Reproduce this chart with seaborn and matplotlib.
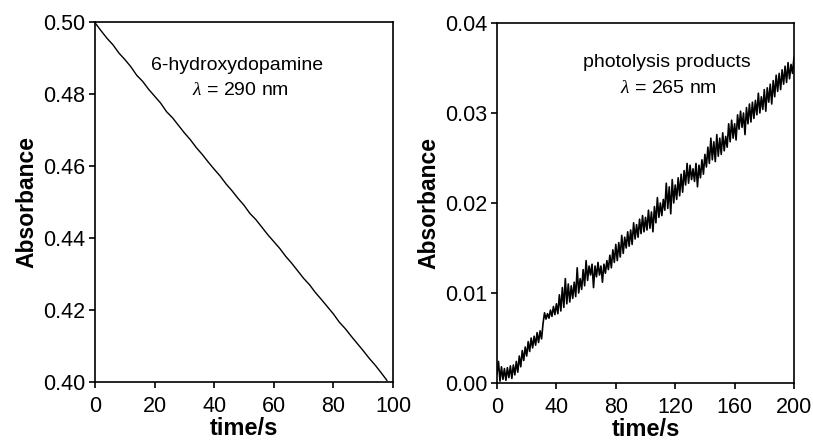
import numpy as np
import pandas as pd
import matplotlib
matplotlib.use("Agg")
import matplotlib.pyplot as plt
import seaborn as sns

# --- data ---

# 6-hydroxydopamine decay at 290 nm
t_left = [0, 2, 4, 6, 8, 10, 12, 14, 16, 18,
          20, 22, 24, 26, 28, 30, 32, 34, 36, 38,
          40, 42, 44, 46, 48, 50, 52, 54, 56, 58,
          60, 62, 64, 66, 68, 70, 72, 74, 76, 78,
          80, 82, 84, 86, 88, 90, 92, 94, 96, 98]
abs_left = [0.4998, 0.4976, 0.4955, 0.4937, 0.4914, 0.4896, 0.4876, 0.4852, 0.4835, 0.4813,
            0.4794, 0.4775, 0.4751, 0.4734, 0.4713, 0.4692, 0.4673, 0.4651, 0.4632, 0.4611,
            0.4591, 0.4572, 0.4550, 0.4531, 0.4510, 0.4491, 0.4468, 0.4451, 0.4430, 0.4409,
            0.4390, 0.4371, 0.4349, 0.4330, 0.4309, 0.4288, 0.4270, 0.4248, 0.4229, 0.4209,
            0.4189, 0.4166, 0.4148, 0.4127, 0.4107, 0.4087, 0.4066, 0.4047, 0.4026, 0.4004]

# photolysis products growth at 265 nm (one reading per second, in 1e-3 units)
abs_right_milli = [
    1.0, 2.4, 0.2, 1.8, 0.4, 1.6, 0.3, 1.7, 0.6, 1.9,
    0.5, 2.0, 0.9, 2.4, 1.2, 3.0, 1.8, 3.6, 2.5, 4.0,
    3.0, 4.6, 3.5, 5.0, 3.9, 5.2, 4.2, 5.6, 4.5, 5.8,
    4.9, 6.6, 7.8, 7.1, 7.7, 7.2, 8.1, 7.4, 8.5, 7.6,
    8.8, 7.7, 9.8, 8.0, 10.6, 8.4, 11.6, 8.8, 11.0, 9.0,
    10.8, 9.4, 11.2, 9.6, 12.8, 10.0, 11.6, 10.4, 12.6, 10.8,
    13.6, 11.4, 13.0, 12.0, 13.2, 10.6, 13.0, 11.8, 13.4, 12.0,
    13.0, 11.2, 13.2, 12.2, 13.6, 12.6, 14.2, 12.8, 14.8, 13.4,
    15.4, 13.6, 15.6, 14.0, 16.4, 14.4, 16.2, 15.0, 16.8, 15.2,
    17.0, 15.4, 17.8, 16.0, 17.6, 16.2, 18.2, 16.6, 18.6, 16.8,
    18.4, 17.0, 19.2, 17.2, 19.0, 16.8, 19.6, 17.8, 20.6, 18.4,
    20.0, 18.6, 20.4, 19.2, 22.2, 19.4, 21.8, 18.8, 22.6, 20.0,
    22.0, 20.4, 22.8, 20.8, 23.2, 21.2, 23.6, 22.0, 24.4, 22.2,
    24.2, 22.6, 23.8, 22.4, 24.4, 21.8, 24.2, 22.8, 24.8, 23.2,
    25.4, 24.0, 26.2, 24.4, 27.2, 24.8, 26.8, 24.6, 27.6, 25.2,
    27.2, 25.4, 27.8, 25.8, 27.4, 26.2, 28.8, 26.8, 29.2, 27.2,
    28.8, 27.0, 29.8, 28.2, 30.2, 28.4, 30.0, 27.6, 30.6, 28.8,
    31.0, 29.0, 31.2, 29.4, 31.4, 29.8, 32.2, 30.0, 31.8, 30.4,
    32.6, 30.2, 32.8, 31.2, 33.2, 31.0, 33.6, 31.8, 34.2, 32.4,
    34.4, 32.6, 34.8, 33.2, 35.2, 33.4, 35.6, 33.8, 35.4, 34.4,
    36.2]
t_right = list(range(len(abs_right_milli)))

left_ticks_x = [0, 20, 40, 60, 80, 100]
left_ticks_y = [0.40, 0.42, 0.44, 0.46, 0.48, 0.50]
right_ticks_x = [0, 40, 80, 120, 160, 200]
right_ticks_y = [0.00, 0.01, 0.02, 0.03, 0.04]

# --- styling ---
sns.set_style("ticks")
plt.rcParams["font.family"] = ["Liberation Sans", "DejaVu Sans"]
plt.rcParams["mathtext.fontset"] = "custom"
plt.rcParams["mathtext.it"] = "Liberation Serif:italic"

fig = plt.figure(figsize=(8.13, 4.47), dpi=100)
ax1 = fig.add_axes([95 / 813, 1 - 382 / 447, 298 / 813, 360 / 447])
ax2 = fig.add_axes([497 / 813, 1 - 383 / 447, 297 / 813, 360 / 447])

df_left = pd.DataFrame({"t": t_left, "A": abs_left})
df_right = pd.DataFrame({"t": t_right, "A": np.array(abs_right_milli) / 1000})

sns.lineplot(data=df_left, x="t", y="A", ax=ax1, color="black", linewidth=1.0)
sns.lineplot(data=df_right, x="t", y="A", ax=ax2, color="black", linewidth=1.2)

ax1.set_xlim(0, 100)
ax1.set_ylim(0.40, 0.50)
ax1.set_xticks(left_ticks_x)
ax1.set_yticks(left_ticks_y)
ax1.set_yticklabels([f"{v:.2f}" for v in left_ticks_y])

ax2.set_xlim(0, 200)
ax2.set_ylim(0.0, 0.04)
ax2.set_xticks(right_ticks_x)
ax2.set_yticks(right_ticks_y)
ax2.set_yticklabels([f"{v:.2f}" for v in right_ticks_y])

for ax in (ax1, ax2):
    for sp in ax.spines.values():
        sp.set_visible(True)
        sp.set_linewidth(1.2)
        sp.set_color("black")
    ax.tick_params(direction="out", length=4, width=1.2, labelsize=15.5,
                   colors="black", labelcolor="black")
    ax.tick_params(axis="x", pad=6)
    ax.tick_params(axis="y", pad=3)
    ax.set_xlabel("time/s", fontsize=17, fontweight="bold", labelpad=0, color="black")
    ax.set_ylabel("Absorbance", fontsize=16.5, fontweight="bold", labelpad=3, color="black")

ax1.text(0.477, 0.88, "6-hydroxydopamine", transform=ax1.transAxes,
         ha="center", va="center", fontsize=14, color="black")
ax1.text(0.487, 0.81, r"$\lambda$ = 290 nm", transform=ax1.transAxes,
         ha="center", va="center", fontsize=14, color="black")
ax2.text(0.572, 0.889, "photolysis products", transform=ax2.transAxes,
         ha="center", va="center", fontsize=14, color="black")
ax2.text(0.577, 0.819, r"$\lambda$ = 265 nm", transform=ax2.transAxes,
         ha="center", va="center", fontsize=14, color="black")

fig.savefig("out.png", dpi=100)
